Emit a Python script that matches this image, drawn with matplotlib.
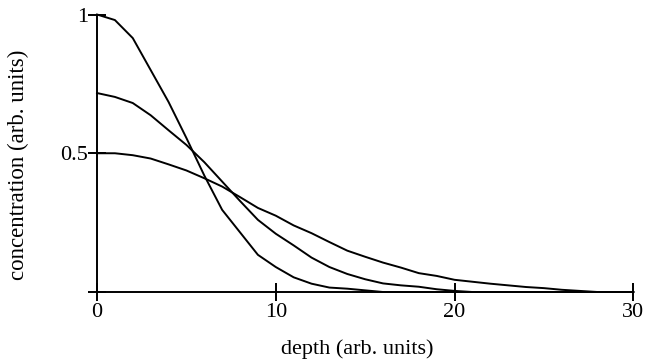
import matplotlib
matplotlib.use('Agg')
import matplotlib.pyplot as plt

plt.rcParams['font.family'] = ['Liberation Serif', 'DejaVu Serif']

# depth samples and concentration profiles for three diffusion times
depth_a = [0, 1, 2, 3, 4, 5, 6, 7, 8, 9, 10, 11, 12, 13, 14, 15, 16, 30]
conc_a = [1.0, 0.98, 0.915, 0.80, 0.685, 0.555, 0.42, 0.296, 0.215, 0.134,
          0.09, 0.053, 0.03, 0.016, 0.012, 0.006, 0.0, 0.0]

depth_b = [0, 1, 2, 3, 4, 5, 6, 7, 8, 9, 10, 11, 12, 13, 14, 15, 16, 17,
           18, 19, 20, 21, 30]
conc_b = [0.717, 0.703, 0.681, 0.637, 0.583, 0.53, 0.468, 0.398, 0.328,
          0.26, 0.21, 0.168, 0.124, 0.09, 0.065, 0.046, 0.031, 0.024,
          0.019, 0.01, 0.004, 0.0, 0.0]

depth_c = [0, 1, 2, 3, 4, 5, 6, 7, 8, 9, 10, 11, 12, 13, 14, 15, 16, 17,
           18, 19, 20, 21, 22, 23, 24, 25, 26, 27, 28, 30]
conc_c = [0.50, 0.50, 0.493, 0.481, 0.46, 0.438, 0.41, 0.38, 0.342, 0.303,
          0.275, 0.24, 0.212, 0.18, 0.149, 0.127, 0.106, 0.088, 0.068,
          0.058, 0.044, 0.037, 0.03, 0.024, 0.018, 0.014, 0.008, 0.004,
          0.0, 0.0]

xticks = [0, 10, 20, 30]
yticks = [0, 0.5, 1]
yticklabels = ['', '0.5', '1']

fig = plt.figure(figsize=(6.49, 3.59), dpi=100)
ax = fig.add_axes([0.1495, 0.1866, 0.8263, 0.773])

for d, c in [(depth_a, conc_a), (depth_b, conc_b), (depth_c, conc_c)]:
    ax.plot(d, c, color='black', lw=1.4, clip_on=False)

ax.set_xlim(0, 30)
ax.set_ylim(0, 1)
ax.set_xticks(xticks)
ax.set_yticks(yticks)
ax.set_yticklabels(yticklabels)

for s in ['top', 'right']:
    ax.spines[s].set_visible(False)
for s in ['left', 'bottom']:
    ax.spines[s].set_linewidth(1.4)

ax.tick_params(axis='both', direction='inout', length=13, width=1.4,
               labelsize=16)
ax.tick_params(axis='x', pad=1.5)
ax.tick_params(axis='y', pad=0)

ax.set_xlabel('depth (arb. units)', fontsize=16)
ax.set_ylabel('concentration (arb. units)', fontsize=16.5)
ax.xaxis.set_label_coords(0.485, -0.17)
ax.yaxis.set_label_coords(-0.127, 0.46)

fig.savefig('out.png', dpi=100)
